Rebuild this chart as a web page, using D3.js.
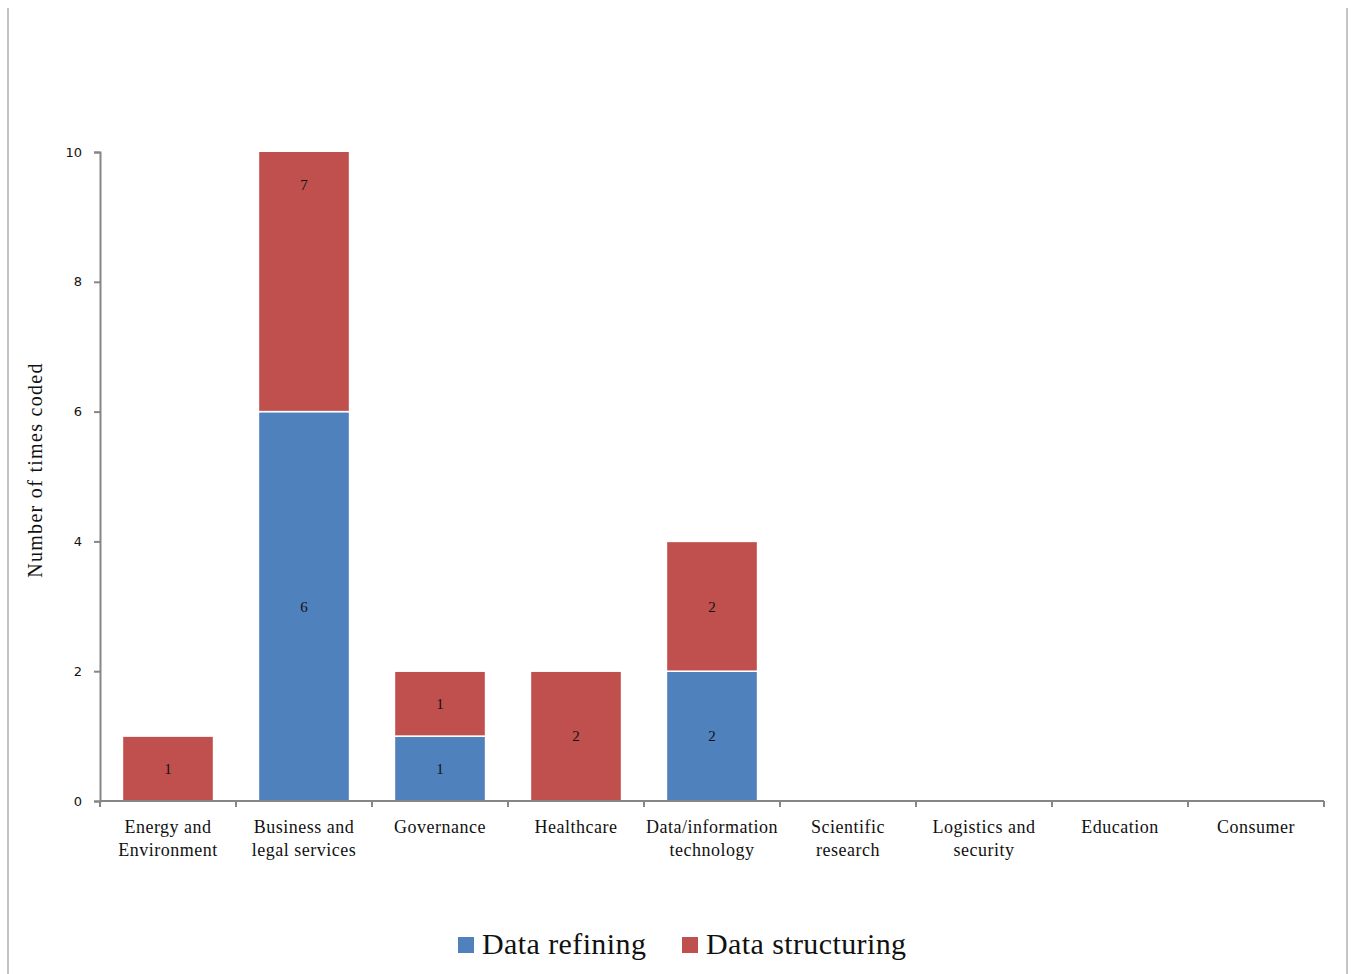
<!DOCTYPE html>
<html>
<head>
<meta charset="utf-8">
<script src="https://cdn.jsdelivr.net/npm/d3@7"></script>
<style>
	body { margin: 0; background: #fff; }
	svg { display: block; }
</style>
</head>
<body>
<svg width="1353" height="974"></svg>
<script>
const categories = [
	['Energy and', 'Environment'],
	['Business and', 'legal services'],
	['Governance'],
	['Healthcare'],
	['Data/information', 'technology'],
	['Scientific', 'research'],
	['Logistics and', 'security'],
	['Education'],
	['Consumer']
];
const refining = [0, 6, 1, 0, 2, 0, 0, 0, 0];
const structuring = [1, 7, 1, 2, 2, 0, 0, 0, 0];
const seriesNames = ['Data refining', 'Data structuring'];
const colors = ['#4F81BD', '#C0504D'];
const yTicks = [0, 2, 4, 6, 8, 10];

const svg = d3.select('svg'),
	margin = {left: 100, right: 29, top: 152, bottom: 173},
	width = 1353 - margin.left - margin.right,
	height = 974 - margin.top - margin.bottom;

// faint page frame lines
svg.selectAll('line.frame')
	.data([8, 1347])
	.enter().append('line')
	.attr('class', 'frame')
	.attr('x1', d => d).attr('x2', d => d)
	.attr('y1', 8).attr('y2', 974)
	.attr('stroke', '#c4c4c4').attr('stroke-width', 2);

const g = svg.append('g').attr('transform', `translate(${margin.left},${margin.top})`);

const x = d3.scaleBand().domain(d3.range(categories.length)).range([0, width]).paddingInner(0.33).paddingOuter(0.165);
const y = d3.scaleLinear().domain([0, 10]).range([height, 0]);

g.append('clipPath').attr('id', 'plot')
	.append('rect').attr('x', 0).attr('y', 0).attr('width', width).attr('height', height);

// stacked segments; the axis stops at 10 so taller bars get cut off
let stacks = categories.map((c, i) => [
	{i, s: 0, y0: 0, y1: refining[i]},
	{i, s: 1, y0: refining[i], y1: refining[i] + structuring[i]}
]).flat().filter(d => d.y1 > d.y0);

const bars = g.append('g').attr('clip-path', 'url(#plot)');
bars.selectAll('rect')
	.data(stacks)
	.enter().append('rect')
	.attr('x', d => x(d.i))
	.attr('width', x.bandwidth())
	.attr('y', d => y(d.y1))
	.attr('height', d => y(d.y0) - y(d.y1))
	.attr('fill', d => colors[d.s])
	.attr('stroke', '#fff')
	.attr('stroke-width', 1.5);

g.selectAll('text.val')
	.data(stacks)
	.enter().append('text')
	.attr('class', 'val')
	.attr('x', d => x(d.i) + x.bandwidth() / 2)
	.attr('y', d => y((d.y0 + d.y1) / 2))
	.attr('dy', '0.35em')
	.attr('text-anchor', 'middle')
	.attr('font-family', 'Liberation Serif')
	.attr('font-size', 15)
	.attr('fill', '#111')
	.text(d => d.y1 - d.y0);

// y axis
const yAxis = g.append('g').call(d3.axisLeft(y).tickValues(yTicks).tickSize(6).tickPadding(12));
yAxis.selectAll('text').attr('font-family', 'DejaVu Sans').attr('font-size', 13).attr('fill', '#111');

// x axis with ticks at band boundaries
const xAxis = g.append('g').attr('transform', `translate(0,${height})`);
xAxis.append('line').attr('x1', 0).attr('x2', width);
xAxis.selectAll('line.tick')
	.data(d3.range(categories.length + 1))
	.enter().append('line')
	.attr('class', 'tick')
	.attr('x1', d => d * width / categories.length)
	.attr('x2', d => d * width / categories.length)
	.attr('y1', 0).attr('y2', 6);

[yAxis, xAxis].forEach(a => {
	a.selectAll('line, path').attr('stroke', '#868686').attr('stroke-width', 2);
});

xAxis.selectAll('text.cat')
	.data(categories)
	.enter().append('text')
	.attr('class', 'cat')
	.attr('text-anchor', 'middle')
	.attr('font-family', 'Liberation Serif')
	.attr('font-size', 18)
	.attr('letter-spacing', 0.5)
	.attr('fill', '#111')
	.each(function (d, i) {
		d3.select(this).selectAll('tspan')
			.data(d)
			.enter().append('tspan')
			.attr('x', x(i) + x.bandwidth() / 2)
			.attr('y', (t, k) => 32 + k * 23)
			.text(t => t);
	});

svg.append('text')
	.attr('transform', 'translate(42,470) rotate(-90)')
	.attr('text-anchor', 'middle')
	.attr('font-family', 'Liberation Serif')
	.attr('font-size', 20)
	.attr('letter-spacing', 1.3)
	.attr('fill', '#111')
	.text('Number of times coded');

// legend
const legendX = [458, 682];
const legend = svg.selectAll('g.legend')
	.data(seriesNames)
	.enter().append('g')
	.attr('class', 'legend')
	.attr('transform', (d, i) => `translate(${legendX[i]},937)`);
legend.append('rect').attr('width', 16).attr('height', 16).attr('fill', (d, i) => colors[i]);
legend.append('text')
	.attr('x', 24).attr('y', 17)
	.attr('font-family', 'Liberation Serif')
	.attr('font-size', 30)
	.attr('letter-spacing', 0.4)
	.attr('fill', '#111')
	.text(d => d);
</script>
</body>
</html>
